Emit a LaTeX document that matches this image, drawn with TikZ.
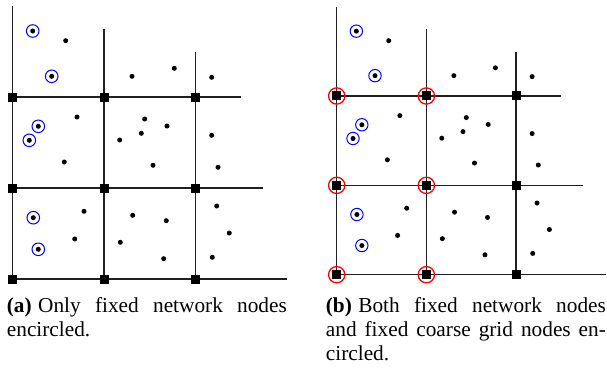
\documentclass[tikz,border=0pt]{standalone}
\usepackage{fontspec}
\setmainfont{Liberation Serif}
\tikzset{
  gridline/.style={line width=1.3pt, draw=black!88},
  gridnode/.style={rectangle, fill=black, inner sep=0pt, minimum size=9pt},
  netpoint/.style={circle, fill=black, inner sep=0pt, minimum size=5pt},
  netring/.style={draw=blue, line width=1pt},
  coarsering/.style={draw=red, line width=1.3pt},
  captext/.style={anchor=base west, inner sep=0pt},
}
\newcommand\panelbody[1]{%
  \foreach \i/\xx in {0/0,1/91.3,2/182.6}{%
    \foreach \j/\yy in {0/0,1/91,2/182}{%
      \coordinate (#1c\i\j) at (\xx,\yy);
    }%
  }%
  \coordinate (#1vt0) at (0,273);
  \coordinate (#1vt1) at (91.3,250);
  \coordinate (#1vt2) at (182.6,227.3);
  \coordinate (#1he0) at (274,0);
  \coordinate (#1he1) at (250.6,91);
  \coordinate (#1he2) at (228,182);
  \draw[gridline] (#1c00) -- (#1vt0);
  \draw[gridline] (#1c10) -- (#1vt1);
  \draw[gridline] (#1c20) -- (#1vt2);
  \draw[gridline] (#1c00) -- (#1he0);
  \draw[gridline] (#1c01) -- (#1he1);
  \draw[gridline] (#1c02) -- (#1he2);
  \foreach \i in {0,1,2}{%
    \foreach \j in {0,1,2}{%
      \node[gridnode] (#1s\i\j) at (#1c\i\j) {};
    }%
  }%
  \foreach \n/\px/\py/\ring in {
    1/20/248/1, 2/53/238.3/0, 3/39/202.7/1, 4/119.3/202.7/0,
    5/161.6/210.7/0, 6/199/201.7/0, 7/64.3/162/0, 8/25.6/152.7/1,
    9/16.6/138.7/1, 10/51.6/117/0, 11/132/160/0, 12/154.3/153/0,
    13/128.6/145.7/0, 14/107/139/0, 15/140.3/113.7/0, 16/199/143.7/0,
    17/205.3/111.7/0, 18/71.3/67.7/0, 19/20.6/61.3/1, 20/62/40/0,
    21/25.6/29.7/1, 22/120/63.7/0, 23/153.6/58.3/0, 24/107.6/36.7/0,
    25/151/20.3/0, 26/204/73/0, 27/216.6/46/0, 28/199.6/21.7/0}{%
    \node[netpoint] (#1d\n) at (\px,\py) {};
    \ifnum\ring=1 \draw[netring] (#1d\n.center) circle (6.3pt);\fi
  }%
}
\begin{document}
\begin{tikzpicture}[x=1pt,y=1pt]
  \useasboundingbox (0,0) rectangle (607,368);
  \begin{scope}[shift={(12.7,89)}]
    \panelbody{A}
  \end{scope}
  \begin{scope}[shift={(336.7,93.3)}, scale=0.982]
    \panelbody{B}
    \foreach \k in {00,01,02,10,11,12}{%
      \draw[coarsering] (Bs\k.center) circle (8.3pt);
    }
  \end{scope}
  \node[captext] (capa) at (6.7,56) {\parbox[t]{280pt}{\fontsize{21.3}{24.4}\selectfont
    \textbf{(a)}\hspace{0.3em}Only fixed network nodes\linebreak encircled.}};
  \node[captext] (capb) at (325.7,56) {\parbox[t]{280pt}{\fontsize{21.3}{24.4}\selectfont
    \textbf{(b)}\hspace{0.3em}Both fixed network nodes\linebreak and fixed coarse grid nodes en-\linebreak circled.}};
\end{tikzpicture}
\end{document}
